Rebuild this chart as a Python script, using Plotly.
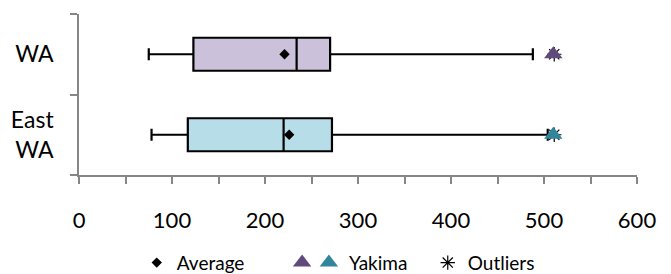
import plotly.graph_objects as go

# ---- data ----
regions = ["East WA", "WA"]
region_labels = ["East<br>WA", "WA"]
region_pos = [0, 1]
lower_whisker = [78, 75]
q1 = [117, 123]
median = [220, 234]
q3 = [272, 270]
upper_whisker = [504, 488]
average = [226, 221]
yakima = [510, 510]
outliers = [511, 511]
box_fill = ["#b7dde8", "#ccc1da"]
yakima_colors = ["#31859c", "#604a7b"]
x_ticks = [0, 100, 200, 300, 400, 500, 600]

FONT = "Lato, 'Open Sans', sans-serif"
GRAY = "#868686"

fig = go.Figure()

for i in range(len(regions)):
    fig.add_trace(go.Box(
        y=[region_pos[i]], q1=[q1[i]], median=[median[i]], q3=[q3[i]],
        lowerfence=[lower_whisker[i]], upperfence=[upper_whisker[i]],
        orientation="h", fillcolor=box_fill[i],
        line=dict(color="black", width=2.2), width=0.41, whiskerwidth=0.36,
        boxpoints=False, showlegend=False, name=regions[i], hoverinfo="skip",
    ))

fig.add_trace(go.Scatter(
    x=average, y=region_pos, mode="markers", name="Average",
    marker=dict(symbol="diamond", color="black", size=8),
    legend="legend",
))

fig.add_trace(go.Scatter(
    x=outliers, y=region_pos, mode="markers", name="Outliers",
    marker=dict(symbol="asterisk-open", color="black", size=12,
                line=dict(color="black", width=1.2)),
    legend="legend4",
))

fig.add_trace(go.Scatter(
    x=[yakima[1]], y=[region_pos[1]], mode="markers", name="",
    marker=dict(symbol="triangle-up", color=yakima_colors[1], size=16),
    legend="legend2",
))
fig.add_trace(go.Scatter(
    x=[yakima[0]], y=[region_pos[0]], mode="markers", name="Yakima",
    marker=dict(symbol="triangle-up", color=yakima_colors[0], size=16),
    legend="legend3",
))

leg_common = dict(orientation="h", yanchor="middle", y=-0.545, xanchor="left",
                  bgcolor="rgba(0,0,0,0)", font=dict(family=FONT, size=19, color="black"))

# page body has an 8px margin, so the figure is 8px smaller and margins shifted
fig.update_layout(
    width=663, height=266,
    margin=dict(l=71, r=34, t=6, b=99, autoexpand=False),
    paper_bgcolor="white", plot_bgcolor="white",
    font=dict(family=FONT, color="black"),
    xaxis=dict(
        range=[0, 600], tickvals=x_ticks, ticks="outside", ticklen=7, tickwidth=1.5,
        tickcolor=GRAY, showline=True, linecolor=GRAY, linewidth=1.5,
        showgrid=False, zeroline=False, tickfont=dict(family=FONT, size=22, color="black"),
        minor=dict(dtick=50, ticks="outside", ticklen=7, tickwidth=1.5, tickcolor=GRAY, showgrid=False),
        ticklabelstandoff=18, automargin=False,
    ),
    yaxis=dict(
        range=[-0.5, 1.5], tickvals=region_pos, ticktext=region_labels,
        ticks="outside", ticklen=19, tickcolor="rgba(0,0,0,0)",
        showline=True, linecolor=GRAY, linewidth=1.5,
        showgrid=False, zeroline=False, tickfont=dict(family=FONT, size=23, color="black"),
        minor=dict(tickvals=[-0.5, 0.5, 1.5], ticks="outside", ticklen=7, tickwidth=1.5,
                   tickcolor=GRAY, showgrid=False),
        automargin=False,
    ),
    legend=dict(x=0.1035, **leg_common),
    legend2=dict(x=0.364, **leg_common),
    legend3=dict(x=0.412, **leg_common),
    legend4=dict(x=0.625, **leg_common),
)

fig.write_html("out.html")
